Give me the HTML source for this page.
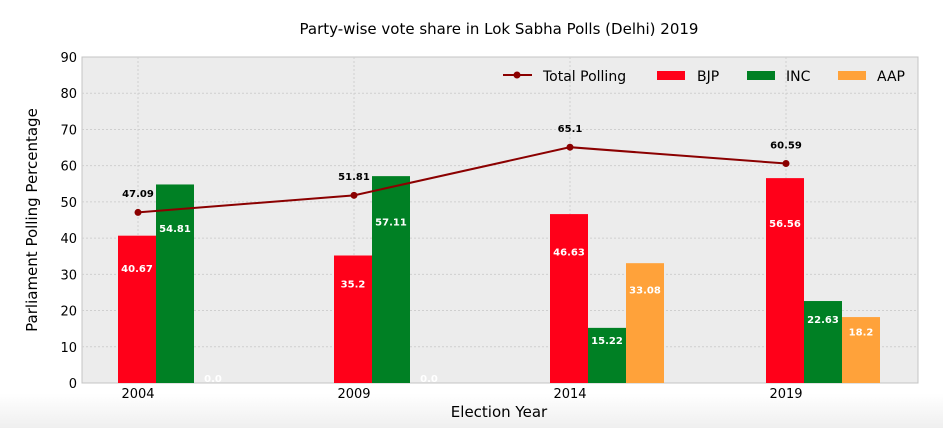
<!DOCTYPE html>
<html><head><meta charset="utf-8"><style>
body{margin:0;background:#fff;}
svg{display:block;font-family:"DejaVu Sans","Liberation Sans",sans-serif;}
</style></head><body>
<svg id="c" width="943" height="428">
<defs><linearGradient id="bg" x1="0" y1="0" x2="0" y2="1"><stop offset="0" stop-color="#ffffff"/><stop offset="0.92" stop-color="#ffffff"/><stop offset="1" stop-color="#efefef"/></linearGradient></defs>
<rect width="943" height="428" fill="url(#bg)"/>
<text x="499" y="34" text-anchor="middle" font-size="15" fill="#000">Party-wise vote share in Lok Sabha Polls (Delhi) 2019</text>
<rect x="82" y="57" width="836" height="326" fill="#ececec" stroke="#c4c4c4"/>
<g id="grid"></g><g id="bars"></g><g id="line"></g><g id="axes"></g>
<text x="499" y="417" text-anchor="middle" font-size="15">Election Year</text>
<text transform="translate(37,220) rotate(-90)" text-anchor="middle" font-size="15">Parliament Polling Percentage</text>
<g font-size="14">
<line x1="503" y1="75" x2="532" y2="75" stroke="#8b0000" stroke-width="2"/><circle cx="517" cy="75" r="3.5" fill="#8b0000"/>
<text x="543" y="81">Total Polling</text>
<rect x="657" y="71" width="28" height="9" fill="#ff0019"/><text x="697" y="81">BJP</text>
<rect x="747" y="71" width="28" height="9" fill="#008024"/><text x="786" y="81">INC</text>
<rect x="838" y="71" width="28" height="9" fill="#ffa23a"/><text x="877" y="81">AAP</text>
</g>
</svg>
<script>
const years=["2004","2009","2014","2019"];
const bjp=[40.67,35.2,46.63,56.56];
const inc=[54.81,57.11,15.22,22.63];
const aap=[0.0,0.0,33.08,18.2];
const polling=[47.09,51.81,65.1,60.59];
const yTicks=[0,10,20,30,40,50,60,70,80,90];
const NS="http://www.w3.org/2000/svg";
const y=v=>383-v*326/90;
const x=i=>138+i*216;
function mk(t,a,p,txt){const e=document.createElementNS(NS,t);for(const k in a)e.setAttribute(k,a[k]);if(txt!==undefined)e.textContent=txt;document.getElementById(p).appendChild(e);return e;}
yTicks.forEach(v=>{
 if(v>0&&v<90){const g=mk('line',{x1:82,x2:918,y1:y(v),y2:y(v),stroke:'#cfcfcf','stroke-dasharray':'2,2'},'grid');
 
 }
 const t=mk('text',{x:77,y:y(v)+5,'text-anchor':'end','font-size':13},'axes',String(v));
 
 
});
years.forEach((yr,i)=>{
 const g=mk('line',{x1:x(i),x2:x(i),y1:57,y2:383,stroke:'#cfcfcf','stroke-dasharray':'2,2'},'grid');
 
 
 const t=mk('text',{x:x(i),y:398,'text-anchor':'middle','font-size':13},'axes',yr);
 
 
});
const series=[[bjp,'#ff0019','bjp',-20],[inc,'#008024','inc',18],[aap,'#ffa23a','aap',56]];
series.forEach(([vals,col,nm,off])=>{
 vals.forEach((v,i)=>{
  const r=mk('rect',{x:x(i)+off,y:y(v),width:38,height:383-y(v),fill:col},'bars');
  
  
  const ty=Math.min(y(v*0.78)+4,382);
  const t=mk('text',{x:x(i)+off+19,y:ty,'text-anchor':'middle','font-size':10,'font-weight':'bold',fill:'#fff'},'bars',v.toFixed(v%1===0?1:(String(v).split('.')[1]||'').length));
  
  
 });
});
const pl=mk('polyline',{points:polling.map((v,i)=>x(i)+','+y(v)).join(' '),fill:'none',stroke:'#8b0000','stroke-width':2},'line');


polling.forEach((v,i)=>{
 const c=mk('circle',{cx:x(i),cy:y(v),r:3.5,fill:'#8b0000'},'line');
 
 
 const t=mk('text',{x:x(i),y:y(v+5.3)+4,'text-anchor':'middle','font-size':10,'font-weight':'bold'},'line',String(v));
 
 
});
</script>
</body></html>
